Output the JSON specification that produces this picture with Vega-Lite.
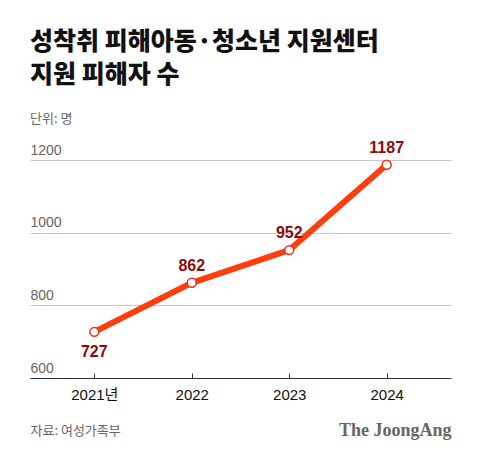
{
  "$schema": "https://vega.github.io/schema/vega-lite/v6.json",
  "width": 421,
  "height": 218,
  "autosize": "none",
  "padding": {"left": 30, "top": 160, "right": 29, "bottom": 79},
  "background": "white",
  "title": {
    "text": ["성착취 피해아동·청소년 지원센터", "지원 피해자 수"],
    "subtitle": "단위: 명",
    "anchor": "start",
    "frame": "group",
    "font": "Noto Sans CJK KR",
    "fontSize": 25,
    "fontWeight": 900,
    "color": "#111111",
    "lineHeight": 33,
    "subtitleFont": "Noto Sans CJK KR",
    "subtitleFontSize": 13,
    "subtitleColor": "#666666",
    "subtitlePadding": 25,
    "offset": 14
  },
  "data": {
    "values": [
      {"year": "2021년", "count": 727},
      {"year": "2022", "count": 862},
      {"year": "2023", "count": 952},
      {"year": "2024", "count": 1187}
    ]
  },
  "encoding": {
    "x": {
      "field": "year",
      "type": "ordinal",
      "sort": null,
      "scale": {"type": "point", "padding": 0.66},
      "axis": {
        "title": "자료: 여성가족부",
        "titleFont": "Noto Sans CJK KR",
        "titleFontSize": 13,
        "titleFontWeight": "normal",
        "titleColor": "#666666",
        "titleAnchor": "start",
        "titleAlign": "left",
        "titleBaseline": "middle",
        "titleX": 0,
        "titleY": 52,
        "labelAngle": 0,
        "labelFont": "Liberation Sans, Noto Sans CJK KR",
        "labelFontSize": 15,
        "labelColor": "#111111",
        "labelPadding": 14,
        "domainColor": "#333333",
        "tickColor": "#333333",
        "tickSize": -5,
        "grid": false
      }
    },
    "y": {
      "field": "count",
      "type": "quantitative",
      "scale": {"domain": [600, 1200]}
    }
  },
  "layer": [
    {
      "mark": {"type": "line", "color": "#FF3D0D", "strokeWidth": 6},
      "encoding": {
        "y": {
          "field": "count",
          "type": "quantitative",
          "scale": {"domain": [600, 1200]},
          "axis": {
            "title": null,
            "values": [600, 800, 1000, 1200],
            "format": "d",
            "domain": false,
            "ticks": false,
            "grid": true,
            "gridColor": "#c8c8c8",
            "labelAlign": "left",
            "labelBaseline": "bottom",
            "labelPadding": 0,
            "labelOffset": -3,
            "labelFont": "Liberation Sans",
            "labelFontSize": 14,
            "labelColor": "#666666"
          }
        }
      }
    },
    {
      "mark": {"type": "point", "filled": true, "fill": "white", "stroke": "#E8321A", "strokeWidth": 1.5, "size": 80, "opacity": 1},
      "encoding": {
        "y": {"field": "count", "type": "quantitative", "scale": {"domain": [600, 1200]}, "axis": null}
      }
    },
    {
      "transform": [{"filter": "datum.year !== '2021년'"}],
      "mark": {"type": "text", "dy": -17, "font": "Liberation Sans", "fontSize": 16, "fontWeight": "bold", "color": "#8B0A0A"},
      "encoding": {
        "text": {"field": "count", "type": "quantitative"},
        "y": {
          "field": "count",
          "type": "quantitative",
          "scale": {"domain": [600, 1200]},
          "axis": {
            "orient": "right",
            "title": "The JoongAng",
            "titleAngle": 0,
            "titleAlign": "right",
            "titleBaseline": "middle",
            "titleX": 0,
            "titleY": 270,
            "titleFont": "Liberation Serif",
            "titleFontSize": 18,
            "titleFontWeight": "bold",
            "titleColor": "#666666",
            "labels": false,
            "ticks": false,
            "domain": false,
            "grid": false
          }
        }
      }
    },
    {
      "transform": [{"filter": "datum.year === '2021년'"}],
      "mark": {"type": "text", "dy": 20, "font": "Liberation Sans", "fontSize": 16, "fontWeight": "bold", "color": "#8B0A0A"},
      "encoding": {
        "text": {"field": "count", "type": "quantitative"},
        "y": {"field": "count", "type": "quantitative", "scale": {"domain": [600, 1200]}, "axis": null}
      }
    }
  ],
  "resolve": {"axis": {"y": "independent"}},
  "config": {"view": {"stroke": null}}
}
